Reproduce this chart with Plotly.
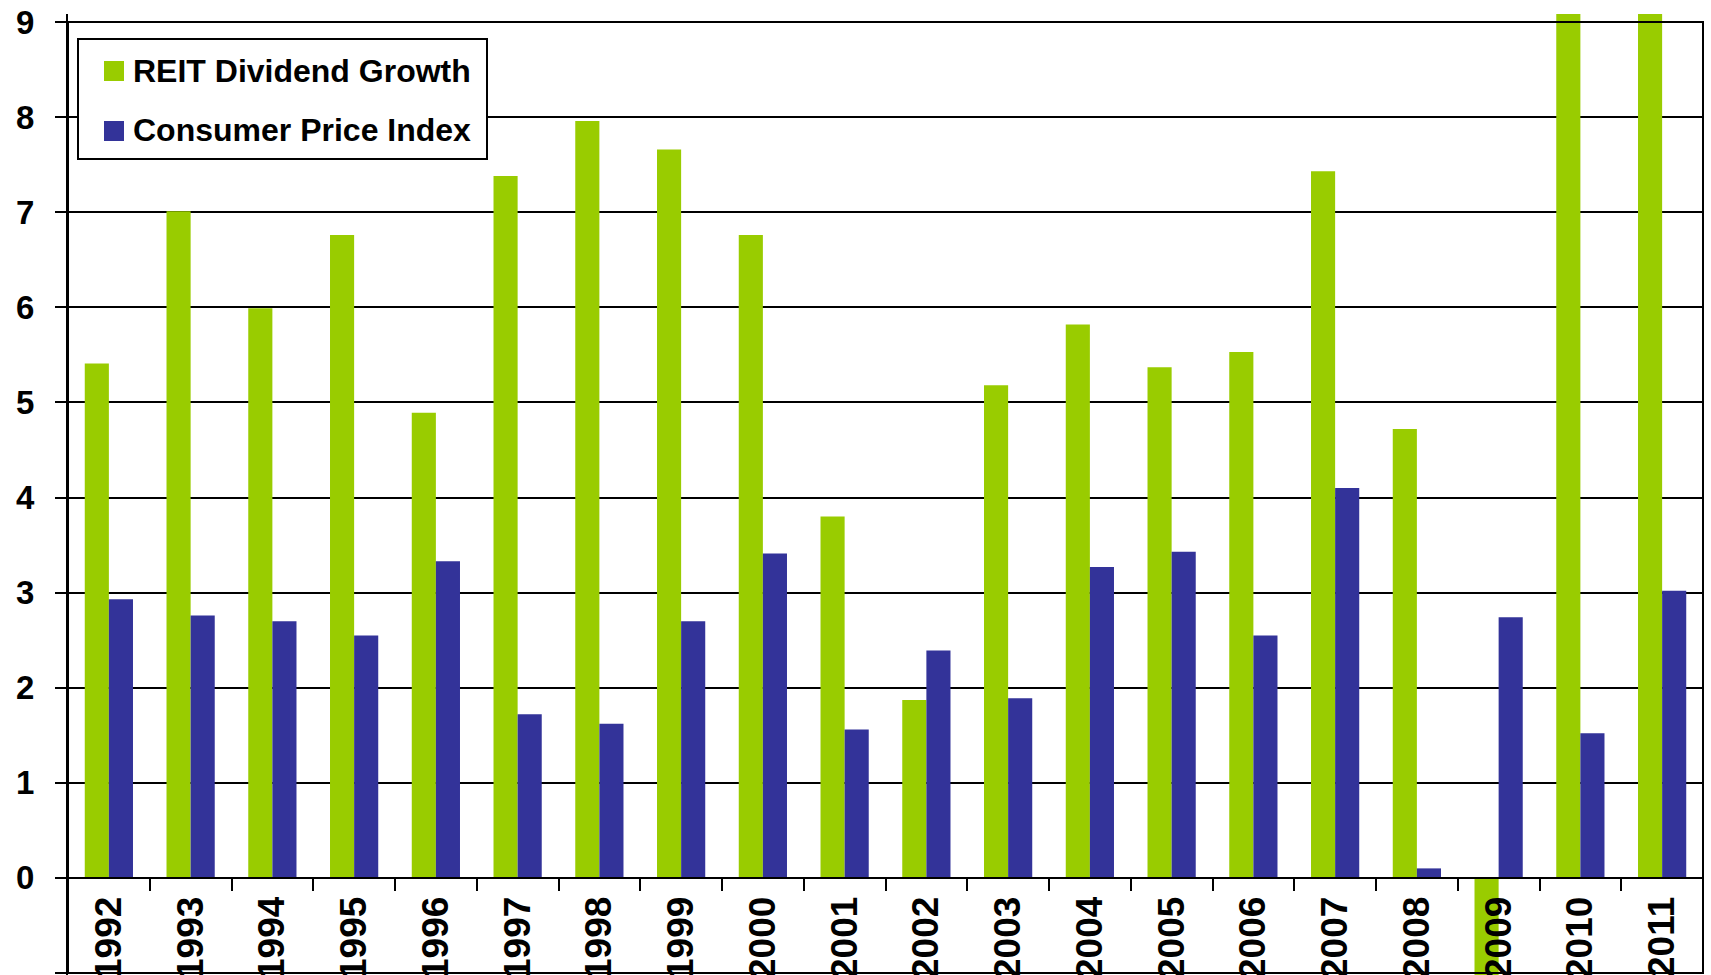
import plotly.graph_objects as go

years = [str(y) for y in range(1992, 2012)]
reit_dividend_growth = [5.41, 7.01, 5.99, 6.76, 4.89, 7.38, 7.96, 7.66, 6.76, 3.80,
                        1.87, 5.18, 5.82, 5.37, 5.53, 7.43, 4.72, -1.10, 9.10, 9.10]
consumer_price_index = [2.93, 2.76, 2.70, 2.55, 3.33, 1.72, 1.62, 2.70, 3.41, 1.56,
                        2.39, 1.89, 3.27, 3.43, 2.55, 4.10, 0.10, 2.74, 1.52, 3.02]
y_ticks = list(range(-1, 10))

GREEN = "#99CC00"
BLUE = "#333399"
FONT = "Liberation Sans, Arial, sans-serif"

W, H = 1711, 975
ML, MR, MT, MB = 68, 8, 14, 0
PW, PH = W - ML - MR, H - MT - MB
Y_TOP, Y_BOT = 9.084, -1.021


def px(x):
    return (x - ML) / PW


def py(y):
    return (H - MB - y) / PH


fig = go.Figure()
fig.add_trace(go.Bar(x=years, y=reit_dividend_growth, name="REIT Dividend Growth",
                     marker=dict(color=GREEN, line=dict(width=0)), showlegend=False))
fig.add_trace(go.Bar(x=years, y=consumer_price_index, name="Consumer Price Index",
                     marker=dict(color=BLUE, line=dict(width=0)), showlegend=False))

zero_pos = (0 - Y_BOT) / (Y_TOP - Y_BOT)

fig.update_layout(
    width=W, height=H,
    margin=dict(l=ML, r=MR, t=MT, b=MB, autoexpand=False),
    paper_bgcolor="white", plot_bgcolor="white",
    barmode="group", bargap=0.41, bargroupgap=0.0,
    font=dict(family=FONT, color="black"),
    xaxis=dict(type="category", anchor="free", position=zero_pos,
               showline=True, linecolor="black", linewidth=2,
               ticks="outside", ticklen=12, tickwidth=2, tickcolor="black",
               tickson="boundaries", tickangle=-90, showgrid=False,
               tickfont=dict(family=FONT, size=37, weight="bold", color="black"),
               ticklabelstandoff=3, automargin=False),
    yaxis=dict(range=[Y_BOT, Y_TOP], tickvals=y_ticks,
               showline=True, linecolor="black", linewidth=2,
               ticks="outside", ticklen=11, tickwidth=2, tickcolor="black",
               showgrid=True, gridcolor="black", gridwidth=2,
               zeroline=True, zerolinecolor="black", zerolinewidth=2,
               tickfont=dict(family=FONT, size=33, weight="bold", color="black"),
               ticklabelstandoff=14, automargin=False),
)

shapes = [
    # plot frame (right and bottom borders)
    dict(type="rect", xref="paper", yref="y", x0=0, x1=1, y0=-1, y1=9,
         line=dict(color="black", width=2), layer="above"),
    # legend box
    dict(type="rect", xref="paper", yref="paper", x0=px(78), x1=px(487), y0=py(159), y1=py(39),
         line=dict(color="black", width=2), fillcolor="white", layer="above"),
    dict(type="rect", xref="paper", yref="paper", x0=px(104), x1=px(124), y0=py(81), y1=py(61),
         line=dict(width=0), fillcolor=GREEN, layer="above"),
    dict(type="rect", xref="paper", yref="paper", x0=px(104), x1=px(124), y0=py(141), y1=py(121),
         line=dict(width=0), fillcolor=BLUE, layer="above"),
]
fig.update_layout(shapes=shapes)

for name, yc in [("REIT Dividend Growth", 71), ("Consumer Price Index", 130)]:
    fig.add_annotation(xref="paper", yref="paper", x=px(131), y=py(yc), text=name,
                       showarrow=False, xanchor="left", yanchor="middle",
                       font=dict(family=FONT, size=32, weight="bold", color="black"))

fig.write_html(
    "out.html",
    config={"displayModeBar": False},
    post_script="document.body.style.margin='0';document.body.style.overflow='hidden';",
)
